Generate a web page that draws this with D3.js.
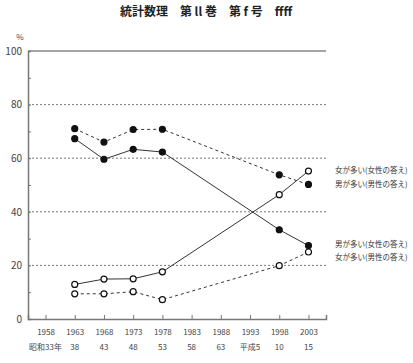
<!DOCTYPE html>
<html>
<head>
<meta charset="utf-8">
<script src="https://cdn.jsdelivr.net/npm/d3@7"></script>
<style>
body { margin: 0; background: #fff; }
text { font-family: "Noto Sans CJK JP", "DejaVu Serif", serif; }
</style>
</head>
<body>
<div id="chart-area"></div>
<script>
var years = [1963, 1968, 1973, 1978, 1998, 2003]
var tickYears = [1958, 1963, 1968, 1973, 1978, 1983, 1988, 1993, 1998, 2003]
var eraLabels = ['昭和33年', '38', '43', '48', '53', '58', '63', '平成5', '10', '15']

// 男が多い(男性の答え)  filled, dashed
var menMaleAns = [71, 66, 70.7, 70.8, 53.8, 50.2]
// 男が多い(女性の答え)  filled, solid
var menFemaleAns = [67.3, 59.6, 63.3, 62.3, 33.3, 27.4]
// 女が多い(女性の答え)  open, solid
var womenFemaleAns = [12.9, 14.9, 15, 17.6, 46.4, 55.2]
// 女が多い(男性の答え)  open, dashed
var womenMaleAns = [9.4, 9.4, 10.2, 7.2, 19.9, 25]

var series = [
  { name: '男が多い(男性の答え)', values: menMaleAns, filled: true, dashed: true },
  { name: '男が多い(女性の答え)', values: menFemaleAns, filled: true, dashed: false },
  { name: '女が多い(女性の答え)', values: womenFemaleAns, filled: false, dashed: false },
  { name: '女が多い(男性の答え)', values: womenMaleAns, filled: false, dashed: true }
]
var labels = [
  { text: '女が多い(女性の答え)', y: 170 },
  { text: '男が多い(男性の答え)', y: 184 },
  { text: '男が多い(女性の答え)', y: 244 },
  { text: '女が多い(男性の答え)', y: 257 }
]

var W = 413, H = 363
var margin = { top: 51, left: 28, bottom: 44, right: 87 }
var width = W - margin.left - margin.right
var height = H - margin.top - margin.bottom

var svg = d3.select('#chart-area').append('svg')
    .attr('width', W).attr('height', H)

svg.append('text')
    .attr('x', 206).attr('y', 16)
    .attr('text-anchor', 'middle')
    .attr('font-size', '12px').attr('font-weight', 'bold')
    .attr('fill', '#222')
    .text('統計数理　第 ll 巻　第 f 号　ffff')

var g = svg.append('g').attr('transform', `translate(${margin.left}, ${margin.top})`)

var x = d3.scaleLinear().domain([1955, 2006]).range([0, width])
var y = d3.scaleLinear().domain([0, 100]).range([height, 0])

// grid lines
g.selectAll('.grid').data([20, 40, 60, 80]).enter()
  .append('line')
    .attr('x1', 0).attr('x2', width)
    .attr('y1', d => y(d)).attr('y2', d => y(d))
    .attr('stroke', '#555').attr('stroke-width', 0.8)
    .attr('stroke-dasharray', '2,2')

// top line
g.append('line')
    .attr('x1', 0).attr('x2', width)
    .attr('y1', y(100)).attr('y2', y(100))
    .attr('stroke', '#888').attr('stroke-width', 1.5)

// y axis
var yAxis = d3.axisLeft(y).tickValues(d3.range(0, 101, 10))
    .tickSize(-3).tickFormat(d => d % 20 === 0 ? d : '')
var yg = g.append('g').call(yAxis)
yg.select('.domain').attr('stroke', '#777').attr('stroke-width', 1.5)
yg.selectAll('.tick line').attr('stroke', '#777')
yg.selectAll('.tick text').attr('x', -6).attr('font-size', '10px').attr('fill', '#444')
    .attr('font-family', 'DejaVu Serif')

svg.append('text')
    .attr('x', 20).attr('y', 40)
    .attr('text-anchor', 'middle')
    .attr('font-size', '8px').attr('fill', '#444')
    .attr('font-family', 'DejaVu Serif')
    .text('%')

// x axis
var xAxis = d3.axisBottom(x).tickValues(tickYears).tickSize(-4).tickFormat(d3.format('d'))
var xg = g.append('g').attr('transform', `translate(0, ${height})`).call(xAxis)
xg.select('.domain').attr('stroke', '#777').attr('stroke-width', 1.5)
xg.selectAll('.tick line').attr('stroke', '#777')
xg.selectAll('.tick text').attr('y', 10).attr('font-size', '8px').attr('fill', '#444')
    .attr('font-family', 'DejaVu Serif')

g.selectAll('.era').data(eraLabels).enter()
  .append('text')
    .attr('x', (d, i) => x(tickYears[i]))
    .attr('y', height + 31)
    .attr('text-anchor', 'middle')
    .attr('font-size', '8px').attr('fill', '#444')
    .text(d => d)

var line = d3.line().x((d, i) => x(years[i])).y(d => y(d))

series.forEach(s => {
  g.append('path')
      .datum(s.values)
      .attr('d', line)
      .attr('fill', 'none')
      .attr('stroke', '#333')
      .attr('stroke-width', 1)
      .attr('stroke-dasharray', s.dashed ? '3,3' : null)
  g.selectAll(null).data(s.values).enter()
    .append('circle')
      .attr('cx', (d, i) => x(years[i]))
      .attr('cy', d => y(d))
      .attr('r', 3)
      .attr('fill', s.filled ? '#111' : '#fff')
      .attr('stroke', '#111')
      .attr('stroke-width', 1.2)
})

svg.selectAll('.lbl').data(labels).enter()
  .append('text')
    .attr('x', 335).attr('y', d => d.y + 3)
    .attr('font-size', '7.5px').attr('fill', '#333')
    .text(d => d.text)
</script>
</body>
</html>
